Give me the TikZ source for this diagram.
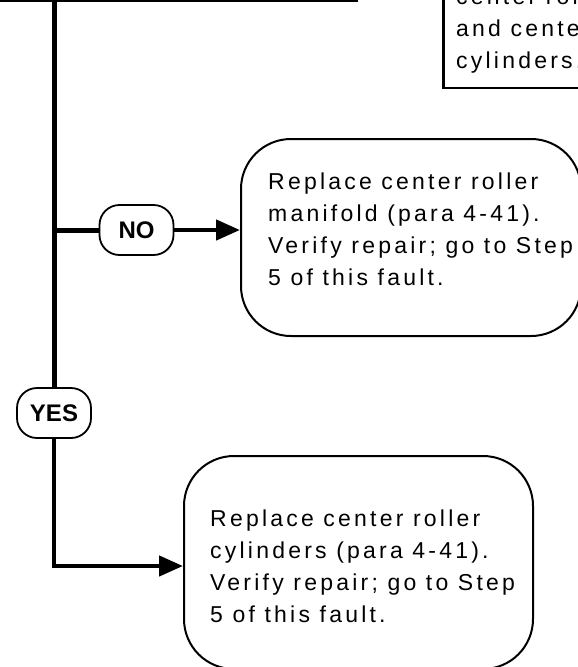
\documentclass[tikz,border=0pt]{standalone}
\usepackage{fontspec}
\setmainfont{Liberation Sans}
\usetikzlibrary{arrows.meta}
\begin{document}
\begin{tikzpicture}[x = 1pt, y = -1pt,
        flow/.style = {line width = 5pt},
        flowarrow/.style = {line width = 4.5pt, -{Triangle[length = 24pt, width = 20pt]}},
        answer/.style = {draw, line width = 1.8pt, rounded corners = 20pt, minimum width = 74pt, minimum height = 50pt, inner sep = 0pt, font = \fontsize{24}{28}\selectfont\bfseries},
        checkbox/.style = {draw, line width = 2.5pt, inner sep = 0pt},
        stepbox/.style = {draw, line width = 2pt, rounded corners = 50pt, inner sep = 0pt, anchor = north west},
        steptext/.style = {align = left, anchor = base west, inner sep = 0pt, font = \fontsize{23}{32}\selectfont\addfontfeatures{LetterSpace = 14}}]
    \useasboundingbox (0, 0) rectangle (578, 667);
    % boxes cut off above
    \node[checkbox, minimum width = 400pt, minimum height = 100pt, anchor = south east] (prev) at (358, 2) {};
    \node[checkbox, minimum width = 200pt, minimum height = 150pt, anchor = south west] (cond) at (442, 89) {};
    \node[steptext] (condtext) at (456, 68) {center roller\\and center\\cylinders.};
    % NO branch
    \coordinate (split) at (54, 230);
    \node[answer] (no) at (136.5, 230) {NO};
    \node[stepbox, minimum width = 340pt, minimum height = 197pt] (manifold) at (240, 138) {};
    \node[steptext] (manifoldtext) at (268, 285) {Replace center roller\\manifold (para 4-41).\\Verify repair; go to Step\\5 of this fault.};
    % YES branch
    \node[answer] (yes) at (54, 413) {YES};
    \coordinate (corner) at (54, 566);
    \node[stepbox, minimum width = 349pt, minimum height = 213pt] (cylinders) at (183, 455) {};
    \node[steptext] (cylinderstext) at (210, 622) {Replace center roller\\cylinders (para 4-41).\\Verify repair; go to Step\\5 of this fault.};
    \draw[flow] (prev.south -| yes) -- (yes);
    \draw[flow] (split) -- (no);
    \draw[flowarrow] (no.east) -- (no.east -| manifold.west);
    \draw[flowarrow] (yes) |- (cylinders.west |- corner);
\end{tikzpicture}
\end{document}
